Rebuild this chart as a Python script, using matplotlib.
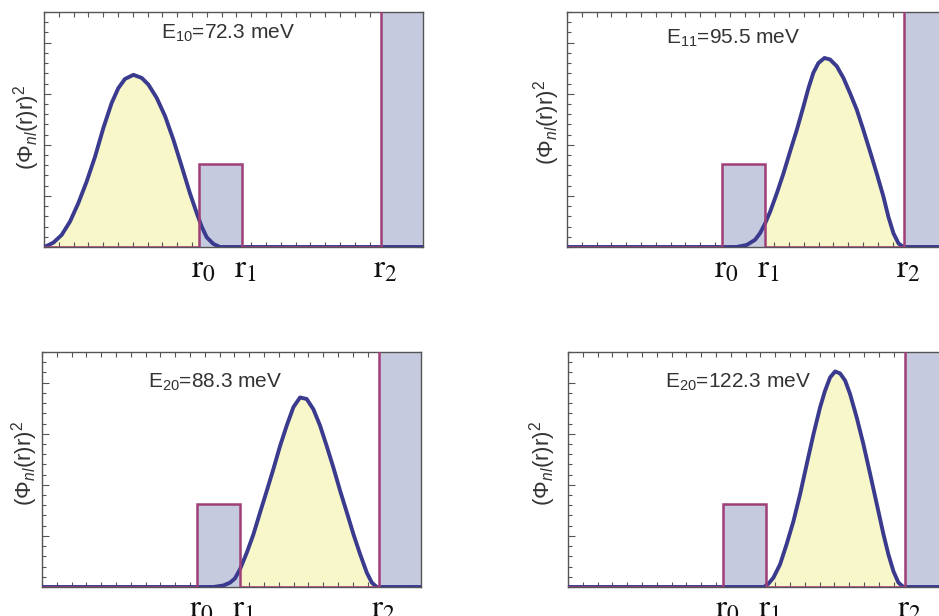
import matplotlib
matplotlib.use("Agg")
import matplotlib.pyplot as plt
from matplotlib.ticker import MultipleLocator

plt.rcParams['font.family'] = ['Liberation Sans', 'DejaVu Sans']
plt.rcParams['mathtext.fontset'] = 'custom'
plt.rcParams['mathtext.rm'] = 'Liberation Sans'
plt.rcParams['mathtext.it'] = 'Liberation Sans:italic'
plt.rcParams['mathtext.bf'] = 'Liberation Sans:bold'

# ---------------- data ----------------
x_max = 25.6
y_max = 4.6
r0 = 10.5
r1 = 13.35
r2 = 22.75
barrier_height = 1.63
wall_height = 10.0

pot_x = [0.0, r0, r0, r1, r1, r2, r2, x_max]
pot_y = [0.0, 0.0, barrier_height, barrier_height, 0.0, 0.0, wall_height, wall_height]

r_labels = ['0', '1', '2']
r_positions = [r0, r1, r2]

titles = [r'E$_{10}$=72.3 meV', r'E$_{11}$=95.5 meV',
          r'E$_{20}$=88.3 meV', r'E$_{20}$=122.3 meV']

x_10 = [0.0, 0.18, 0.63, 1.19, 1.76, 2.32, 2.88, 3.45, 4.01, 4.57, 5.02, 5.47, 6.04,
        6.60, 7.05, 7.61, 8.18, 8.74, 9.30, 9.86, 10.32, 10.65, 10.99, 11.44, 11.89, 25.6]
y_10 = [0.0, 0.02, 0.085, 0.235, 0.50, 0.86, 1.28, 1.77, 2.33, 2.82, 3.11, 3.29, 3.37,
        3.31, 3.18, 2.92, 2.56, 2.10, 1.58, 1.05, 0.66, 0.40, 0.19, 0.06, 0.0, 0.0]

x_11 = [0.0, 11.46, 12.14, 12.70, 13.04, 13.38, 13.72, 14.17, 14.62, 15.07, 15.52, 15.97,
        16.31, 16.64, 16.98, 17.39, 17.77, 18.22, 18.67, 19.12, 19.57, 20.02, 20.47,
        20.92, 21.37, 21.71, 22.05, 22.39, 22.73, 25.6]
y_11 = [0.0, 0.0, 0.04, 0.14, 0.27, 0.46, 0.69, 1.05, 1.44, 1.87, 2.29, 2.75,
        3.11, 3.41, 3.60, 3.70, 3.67, 3.54, 3.31, 3.01, 2.69, 2.29, 1.87,
        1.44, 0.99, 0.59, 0.27, 0.07, 0.0, 0.0]

x_20 = [0.0, 11.58, 12.25, 12.70, 13.04, 13.38, 13.83, 14.28, 14.73, 15.18, 15.63, 16.08,
        16.53, 16.98, 17.43, 17.88, 18.33, 18.78, 19.23, 19.68, 20.14, 20.59, 21.04,
        21.49, 21.94, 22.28, 22.61, 25.6]
y_20 = [0.0, 0.0, 0.03, 0.085, 0.17, 0.35, 0.67, 1.03, 1.46, 1.88, 2.31, 2.76,
        3.16, 3.52, 3.71, 3.68, 3.48, 3.16, 2.76, 2.34, 1.88, 1.46, 1.03,
        0.64, 0.28, 0.085, 0.0, 0.0]

x_21 = [0.0, 13.24, 13.54, 13.87, 14.32, 14.77, 15.23, 15.68, 16.13, 16.58, 17.03, 17.36,
        17.70, 18.04, 18.38, 18.72, 19.05, 19.50, 19.95, 20.41, 20.86, 21.31, 21.64,
        21.98, 22.32, 22.66, 25.6]
y_21 = [0.0, 0.0, 0.065, 0.18, 0.44, 0.84, 1.29, 1.82, 2.41, 2.99, 3.52, 3.84,
        4.10, 4.22, 4.18, 4.04, 3.78, 3.32, 2.80, 2.21, 1.62, 1.03, 0.64,
        0.31, 0.085, 0.0, 0.0]

curves_x = [x_10, x_11, x_20, x_21]
curves_y = [y_10, y_11, y_20, y_21]

# ---------------- layout / style ----------------
W, H = 939, 616
axes_px = [(44, 12), (567, 12), (42, 352), (568, 352)]   # left, top in px
ax_w, ax_h = 379, 235
title_pos = [(12.4, 4.18), (11.2, 4.08), (11.7, 4.0), (11.5, 4.0)]
ylabel_pos = [(-0.047, 0.51), (-0.055, 0.53), (-0.047, 0.526), (-0.066, 0.526)]

c_yellow = '#f7f7c9'
c_barrier = '#c6cade'
c_curve = '#3a3a8e'
c_pot = '#9e3f78'
c_spine = '#555555'
c_text = '#333333'

fig = plt.figure(figsize=(W / 100, H / 100), dpi=100)

for i in range(4):
    lx, ty = axes_px[i]
    ax = fig.add_axes([lx / W, (H - ty - ax_h) / H, ax_w / W, ax_h / H])
    ax.set_xlim(0, x_max)
    ax.set_ylim(0, y_max)

    cx, cy = curves_x[i], curves_y[i]
    ax.fill_between(cx, 0, cy, color=c_yellow, lw=0, zorder=1)
    ax.fill_between(pot_x, 0, pot_y, color=c_barrier, lw=0, zorder=2)
    ax.plot(cx, cy, color=c_curve, lw=2.8, zorder=3, solid_joinstyle='round',
            solid_capstyle='round')
    ax.plot(pot_x, pot_y, color=c_pot, lw=1.8, zorder=4, solid_joinstyle='miter')

    ax.text(title_pos[i][0], title_pos[i][1], titles[i], ha='center', va='center',
            fontsize=15, color=c_text, zorder=6)
    ax.text(ylabel_pos[i][0], ylabel_pos[i][1], r'$(\Phi_{nl}(\mathrm{r})\mathrm{r})^2$',
            transform=ax.transAxes, rotation=90, ha='center', va='center',
            fontsize=16, color=c_text)

    for lab, rp in zip(r_labels, r_positions):
        ax.annotate(r'$\mathrm{r}_{%s}$' % lab, xy=(rp, 0), xycoords='data',
                    xytext=(3, -5), textcoords='offset points', ha='center', va='top',
                    fontsize=24, color='#111111', math_fontfamily='stix',
                    annotation_clip=False)

    ax.xaxis.set_major_locator(MultipleLocator(1))
    ax.yaxis.set_major_locator(MultipleLocator(1))
    ax.yaxis.set_minor_locator(MultipleLocator(0.2))
    ax.tick_params(which='both', direction='in', top=True, right=True,
                   labelbottom=False, labelleft=False, color=c_spine, width=0.8)
    ax.tick_params(axis='x', which='major', length=3.5)
    ax.tick_params(axis='y', which='major', length=5)
    ax.tick_params(axis='y', which='minor', length=3)
    for s in ax.spines.values():
        s.set_color(c_spine)
        s.set_linewidth(1.0)

fig.savefig('out.png', dpi=100)
